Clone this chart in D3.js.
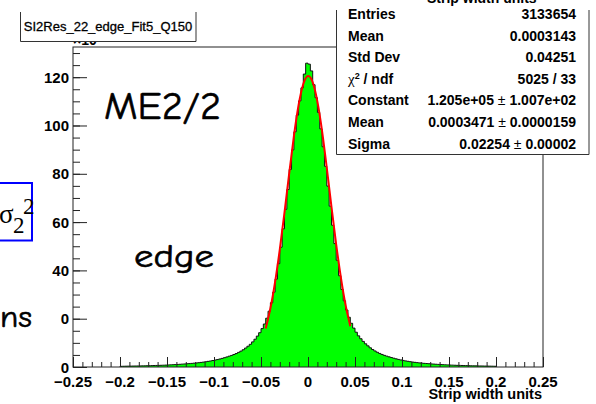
<!DOCTYPE html>
<html>
<head>
<meta charset="utf-8">
<script src="https://cdn.jsdelivr.net/npm/d3@7"></script>
<style>
body { margin: 0; background: #fff; }
svg { display: block; }
</style>
</head>
<body>
<div id="chart"></div>
<script>
// histogram: bins of 0.0025 starting at -0.2, heights in units of 10^3 entries
var binStart = -0.2;
var binWidth = 0.0025;
var counts = [
    0.28, 0.31, 0.33, 0.35, 0.37, 0.39, 0.41, 0.43, 0.45, 0.47,
    0.49, 0.52, 0.55, 0.58, 0.61, 0.64, 0.67, 0.71, 0.75, 0.79,
    0.84, 0.89, 0.94, 0.99, 1.05, 1.12, 1.19, 1.26, 1.34, 1.41,
    1.49, 1.58, 1.68, 1.79, 1.9, 2.03, 2.18, 2.33, 2.49, 2.68,
    2.88, 3.08, 3.32, 3.57, 3.86, 4.16, 4.48, 4.79, 5.17, 5.58,
    6.05, 6.57, 7.15, 7.85, 8.6, 9.4, 10.4, 11.5, 12.8, 14.2,
    15.9, 17.8, 20.2, 23.1, 26.6, 31.0, 36.4, 42.8, 49.6, 57.2,
    65.3, 73.5, 81.8, 89.9, 97.4, 104.3, 110.2, 115.6, 121.3, 125.8,
    125.4, 122.6, 116.9, 111.5, 105.4, 98.6, 91.2, 83.1, 74.9, 66.6,
    58.7, 51.1, 44.2, 37.8, 32.1, 27.4, 23.6, 20.6, 18.1, 16.1,
    14.4, 12.9, 11.7, 10.6, 9.6, 8.75, 7.95, 7.25, 6.65, 6.1,
    5.62, 5.2, 4.82, 4.5, 4.2, 3.92, 3.64, 3.38, 3.14, 2.92,
    2.72, 2.53, 2.36, 2.21, 2.06, 1.93, 1.81, 1.7, 1.6, 1.51,
    1.43, 1.35, 1.28, 1.21, 1.14, 1.08, 1.02, 0.96, 0.91, 0.86,
    0.81, 0.77, 0.73, 0.69, 0.66, 0.63, 0.6, 0.57, 0.54, 0.51,
    0.49, 0.47, 0.45, 0.43, 0.41, 0.39, 0.37, 0.35, 0.33, 0.31
];

// gaussian fit curve over the fit range
var fitX = [-0.045, -0.04, -0.035, -0.03, -0.025, -0.02, -0.015, -0.01, -0.005, 0,
    0.005, 0.01, 0.015, 0.02, 0.025, 0.03, 0.035, 0.04, 0.045];
var fitY = [15.9, 24.3, 35.2, 48.7, 64.0, 80.2, 95.6, 108.5, 117.2, 120.5,
    117.9, 109.9, 97.6, 82.4, 66.2, 50.7, 37.0, 25.6, 16.9];

var xMajor = [-0.25, -0.2, -0.15, -0.1, -0.05, 0, 0.05, 0.1, 0.15, 0.2, 0.25];
var xLabels = ["\u22120.25", "\u22120.2", "\u22120.15", "\u22120.1", "\u22120.05", "0",
    "0.05", "0.1", "0.15", "0.2", "0.25"];
var yMajor = [0, 20, 40, 60, 80, 100, 120];
var yLabels = ["0", "0", "40", "60", "80", "100", "120"];

var statNames = ["Entries", "Mean", "Std Dev", "chi2", "Constant", "Mean", "Sigma"];
var statValues = ["3133654", "0.0003143", "0.04251", "5025 / 33",
    "1.205e+05|1.007e+02", "0.0003471|0.0000159", "0.02254 |0.00002"];

var histTitle = "SI2Res_22_edge_Fit5_Q150";

(function() {
    var W = 596, H = 404;
    var frame = {left: 73, right: 543, top: 47, bottom: 367};
    var helv = "'Liberation Sans', Arial, Helvetica, sans-serif";
    var hand = "'Comic Sans MS', 'Comic Neue', 'DejaVu Sans', sans-serif";
    var serif = "'Liberation Serif', 'Times New Roman', serif";

    var svg = d3.select("#chart").append("svg")
        .attr("width", W)
        .attr("height", H);

    var x = d3.scaleLinear().domain([-0.25, 0.25]).range([frame.left, frame.right]);
    var y = d3.scaleLinear().domain([0, 132.5]).range([frame.bottom, frame.top]);

    // step outline of the histogram
    var steps = [[binStart, 0]];
    counts.forEach(function(c, i) {
        var x0 = binStart + i * binWidth;
        steps.push([x0, c]);
        steps.push([x0 + binWidth, c]);
    });
    steps.push([binStart + counts.length * binWidth, 0]);

    var stepLine = d3.line()
        .x(function(d) { return x(d[0]); })
        .y(function(d) { return y(d[1]); });

    svg.append("path")
        .attr("d", stepLine(steps))
        .attr("fill", "#00ff00")
        .attr("stroke", "#111")
        .attr("stroke-width", 1);

    var fitLine = d3.line()
        .x(function(d) { return x(d); })
        .y(function(d, i) { return y(fitY[i]); })
        .curve(d3.curveNatural);

    svg.append("path")
        .attr("d", fitLine(fitX))
        .attr("fill", "none")
        .attr("stroke", "#ff0000")
        .attr("stroke-width", 2);

    // frame
    svg.append("rect")
        .attr("x", frame.left)
        .attr("y", frame.top)
        .attr("width", frame.right - frame.left)
        .attr("height", frame.bottom - frame.top)
        .attr("fill", "none")
        .attr("stroke", "#222")
        .attr("stroke-width", 1);

    // x axis ticks (drawn inward like ROOT)
    var xMinor = d3.range(-25, 26).map(function(k) { return k / 100; });
    svg.append("g")
        .attr("transform", "translate(0," + frame.bottom + ")")
        .call(d3.axisTop(x).tickValues(xMinor).tickSize(5).tickFormat(""))
        .call(function(g) { g.select(".domain").remove(); });
    svg.append("g")
        .attr("transform", "translate(0," + frame.bottom + ")")
        .call(d3.axisTop(x).tickValues(xMajor).tickSize(10).tickFormat(""))
        .call(function(g) { g.select(".domain").remove(); });

    svg.selectAll(".xlab")
        .data(xMajor)
        .enter()
        .append("text")
        .attr("class", "xlab")
        .attr("x", function(d) { return x(d); })
        .attr("y", 387)
        .attr("text-anchor", "middle")
        .style("font", "bold 15px " + helv)
        .text(function(d, i) { return xLabels[i]; });

    // y axis ticks
    var yMinor = d3.range(0, 131, 5);
    svg.append("g")
        .attr("transform", "translate(" + frame.left + ",0)")
        .call(d3.axisRight(y).tickValues(yMinor).tickSize(7).tickFormat(""))
        .call(function(g) { g.select(".domain").remove(); });
    svg.append("g")
        .attr("transform", "translate(" + frame.left + ",0)")
        .call(d3.axisRight(y).tickValues(yMajor).tickSize(14).tickFormat(""))
        .call(function(g) { g.select(".domain").remove(); });
    svg.selectAll(".tick line").attr("stroke", "#222");

    svg.selectAll(".ylab")
        .data(yMajor)
        .enter()
        .append("text")
        .attr("class", "ylab")
        .attr("x", 69)
        .attr("y", function(d) { return y(d) + 5.5; })
        .attr("text-anchor", "end")
        .style("font", "bold 15px " + helv)
        .text(function(d, i) { return yLabels[i]; });

    // exponent label, mostly hidden behind the title box
    svg.append("text")
        .attr("x", 73)
        .attr("y", 45)
        .style("font", "bold 14px " + helv)
        .text("\u00d710\u00b3");

    svg.append("text")
        .attr("x", 542)
        .attr("y", 399)
        .attr("text-anchor", "end")
        .style("font", "bold 14.5px " + helv)
        .text("Strip width units");

    // title box
    svg.append("rect")
        .attr("x", 20.5)
        .attr("y", 5)
        .attr("width", 175.5)
        .attr("height", 36.5)
        .attr("fill", "#fff");
    svg.append("path")
        .attr("d", "M20.5,12V41.5H196V12")
        .attr("fill", "none")
        .attr("stroke", "#333");
    svg.append("text")
        .attr("x", 108)
        .attr("y", 31)
        .attr("text-anchor", "middle")
        .style("font", "13px " + helv)
        .style("stroke", "#000")
        .style("stroke-width", 0.3)
        .text(histTitle);

    // stats box
    svg.append("rect")
        .attr("x", 336.5)
        .attr("y", 5)
        .attr("width", 252.5)
        .attr("height", 149.5)
        .attr("fill", "#fff");
    svg.append("path")
        .attr("d", "M336.5,10V154.5H589V10")
        .attr("fill", "none")
        .attr("stroke", "#333");

    // clipped axis title of the plot above
    svg.append("text")
        .attr("x", 427)
        .attr("y", 3)
        .style("font", "bold 14px " + helv)
        .text("Strip width units");

    var rowY = d3.range(statNames.length).map(function(i) { return 19 + i * 21.6; });
    statNames.forEach(function(name, i) {
        var t = svg.append("text")
            .attr("x", 348)
            .attr("y", rowY[i])
            .style("font", "bold 14px " + helv);
        if (name === "chi2") {
            t.append("tspan").style("font", "15px " + serif).text("\u03c7");
            t.append("tspan").attr("dy", -5).style("font-size", "9px").text("2");
            t.append("tspan").attr("dy", 5).text(" / ndf");
        } else {
            t.text(name);
        }
        var parts = statValues[i].split("|");
        var v = svg.append("text")
            .attr("x", 576)
            .attr("y", rowY[i])
            .attr("text-anchor", "end")
            .style("font", "bold 14px " + helv);
        v.append("tspan").text(parts[0]);
        if (parts.length > 1) {
            v.append("tspan").style("font-weight", "normal").text(" \u00b1 ");
            v.append("tspan").text(parts[1]);
        }
    });

    // overlaid slide annotations (handwriting-like strokes)
    function handText(px, py, len, size, str) {
        svg.append("text")
            .attr("x", px)
            .attr("y", py)
            .attr("textLength", len)
            .attr("lengthAdjust", "spacingAndGlyphs")
            .style("font", size + "px " + hand)
            .style("stroke", "#000")
            .style("stroke-width", 0.6)
            .style("stroke-linejoin", "round")
            .text(str);
    }
    handText(104, 119, 117, 38, "ME2/2");
    handText(134, 267, 80, 32, "edge");
    handText(0, 327, 32, 31, "ns");

    svg.append("rect")
        .attr("x", -20)
        .attr("y", 183)
        .attr("width", 52)
        .attr("height", 57.5)
        .attr("fill", "#fff")
        .attr("stroke", "#0000ff")
        .attr("stroke-width", 2);
    svg.append("text")
        .attr("x", -1)
        .attr("y", 223)
        .style("font", "27px " + serif)
        .text("\u03c3");
    svg.append("text")
        .attr("x", 13)
        .attr("y", 233)
        .style("font", "23px " + serif)
        .text("2");
    svg.append("text")
        .attr("x", 23)
        .attr("y", 214)
        .style("font", "23px " + serif)
        .text("2");
})();
</script>
</body>
</html>
